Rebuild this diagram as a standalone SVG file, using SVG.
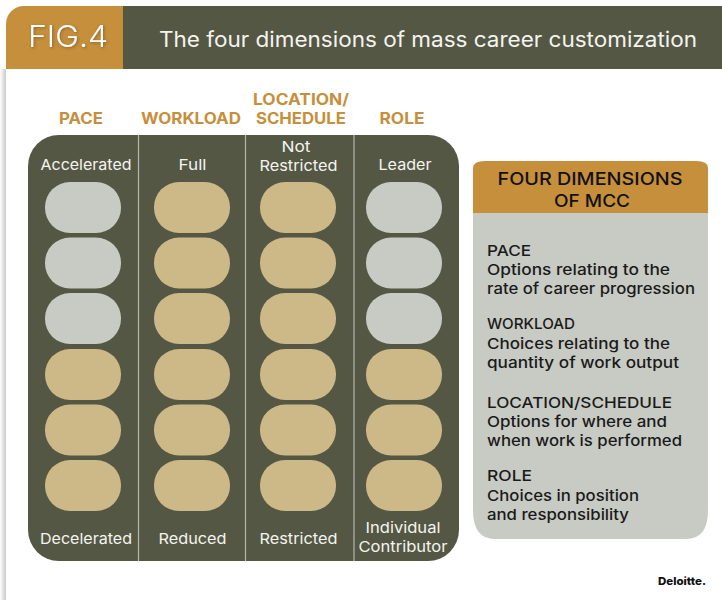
<svg xmlns="http://www.w3.org/2000/svg" width="722" height="600" viewBox="0 0 722 600">
<defs>
<linearGradient id="edge" x1="0" x2="1" y1="0" y2="0"><stop offset="0" stop-color="#fff"/><stop offset="1" stop-color="#c9c9c9"/></linearGradient>
<filter id="soft" x="-20%" y="-20%" width="140%" height="140%"><feDropShadow dx="1" dy="1" stdDeviation="1.5" flood-color="#5a4520" flood-opacity=".6"/></filter>
</defs>
<style>
text{font-family:Inter,"Noto Sans","Liberation Sans",sans-serif}
.h{font-size:15.5px;font-weight:700;fill:#c68f3c;text-anchor:middle}
.l{font-size:15px;font-weight:400;fill:#f4f4ee;text-anchor:middle}
.b{font-size:15px;font-weight:500;fill:#1a1a1a}
.g{fill:#c8cbc3}.t{fill:#cdb987}
.d{stroke:#b5b6ad;stroke-width:1.2}
</style>
<rect width="722" height="600" fill="#fff"/>
<rect x="0" y="69" width="6" height="531" fill="url(#edge)"/>
<g id="header">
<rect x="123" y="6" width="599" height="63" fill="#555745"/>
<path d="M6 69V24A18 18 0 0 1 24 6H123V69Z" fill="#c68f3c"/>
<text x="28" y="47" font-size="30" fill="#fff" filter="url(#soft)" textLength="80" lengthAdjust="spacingAndGlyphs" style="font-weight:300">FIG.4</text>
<text x="159" y="47" font-size="21" font-weight="400" fill="#f4f4ee" textLength="538" lengthAdjust="spacingAndGlyphs">The four dimensions of mass career customization</text>
</g>
<g id="column-headings">
<text class="h" x="81" y="124" textLength="44" lengthAdjust="spacingAndGlyphs">PACE</text>
<text class="h" x="191" y="124" textLength="100" lengthAdjust="spacingAndGlyphs">WORKLOAD</text>
<text class="h" x="301" y="105" textLength="96" lengthAdjust="spacingAndGlyphs">LOCATION/</text>
<text class="h" x="301" y="124" textLength="90" lengthAdjust="spacingAndGlyphs">SCHEDULE</text>
<text class="h" x="402" y="124" textLength="45" lengthAdjust="spacingAndGlyphs">ROLE</text>
</g>
<g id="matrix">
<rect x="28" y="135" width="431" height="426" rx="31" fill="#555745"/>
<g id="dividers">
<line class="d" x1="138.5" y1="135" x2="138.5" y2="561"/>
<line class="d" x1="245.5" y1="135" x2="245.5" y2="561"/>
<line class="d" x1="354" y1="135" x2="354" y2="561"/>
</g>
<g id="col-pace">
<text class="l" x="86" y="170" textLength="91" lengthAdjust="spacingAndGlyphs">Accelerated</text>
<rect class="g" x="45" y="182" width="76" height="51" rx="25"/>
<rect class="g" x="45" y="237.500" width="76" height="51" rx="25"/>
<rect class="g" x="45" y="293" width="76" height="51" rx="25"/>
<rect class="t" x="45" y="349" width="76" height="51" rx="25"/>
<rect class="t" x="45" y="404.500" width="76" height="51" rx="25"/>
<rect class="t" x="45" y="460" width="76" height="51" rx="25"/>
<text class="l" x="86" y="544" textLength="92" lengthAdjust="spacingAndGlyphs">Decelerated</text>
</g>
<g id="col-workload">
<text class="l" x="192.500" y="170" textLength="28" lengthAdjust="spacingAndGlyphs">Full</text>
<rect class="t" x="154" y="182" width="76" height="51" rx="25"/>
<rect class="t" x="154" y="237.500" width="76" height="51" rx="25"/>
<rect class="t" x="154" y="293" width="76" height="51" rx="25"/>
<rect class="t" x="154" y="349" width="76" height="51" rx="25"/>
<rect class="t" x="154" y="404.500" width="76" height="51" rx="25"/>
<rect class="t" x="154" y="460" width="76" height="51" rx="25"/>
<text class="l" x="192.500" y="544" textLength="68" lengthAdjust="spacingAndGlyphs">Reduced</text>
</g>
<g id="col-location">
<text class="l" x="296" y="152" textLength="29" lengthAdjust="spacingAndGlyphs">Not</text>
<text class="l" x="298.500" y="171" textLength="78" lengthAdjust="spacingAndGlyphs">Restricted</text>
<rect class="t" x="260" y="182" width="76" height="51" rx="25"/>
<rect class="t" x="260" y="237.500" width="76" height="51" rx="25"/>
<rect class="t" x="260" y="293" width="76" height="51" rx="25"/>
<rect class="t" x="260" y="349" width="76" height="51" rx="25"/>
<rect class="t" x="260" y="404.500" width="76" height="51" rx="25"/>
<rect class="t" x="260" y="460" width="76" height="51" rx="25"/>
<text class="l" x="298.500" y="544" textLength="78" lengthAdjust="spacingAndGlyphs">Restricted</text>
</g>
<g id="col-role">
<text class="l" x="405" y="170" textLength="53" lengthAdjust="spacingAndGlyphs">Leader</text>
<rect class="g" x="366" y="182" width="76" height="51" rx="25"/>
<rect class="g" x="366" y="237.500" width="76" height="51" rx="25"/>
<rect class="g" x="366" y="293" width="76" height="51" rx="25"/>
<rect class="t" x="366" y="349" width="76" height="51" rx="25"/>
<rect class="t" x="366" y="404.500" width="76" height="51" rx="25"/>
<rect class="t" x="366" y="460" width="76" height="51" rx="25"/>
<text class="l" x="403" y="533" textLength="75" lengthAdjust="spacingAndGlyphs">Individual</text>
<text class="l" x="403" y="552" textLength="89" lengthAdjust="spacingAndGlyphs">Contributor</text>
</g>
</g>
<g id="legend">
<path d="M473 213V168Q473 161 485 161H696Q708 161 708 168V213Z" fill="#c68f3c"/>
<path d="M473 213H708V510Q708 539 686 539H495Q473 539 473 510Z" fill="#c8cbc3"/>
<text x="590" y="185" font-size="17.500" font-weight="500" fill="#111" text-anchor="middle" textLength="185" lengthAdjust="spacingAndGlyphs">FOUR DIMENSIONS</text>
<text x="592" y="207" font-size="17.500" font-weight="500" fill="#111" text-anchor="middle" textLength="76" lengthAdjust="spacingAndGlyphs">OF MCC</text>
<text class="b" x="487" y="256" textLength="44" lengthAdjust="spacingAndGlyphs">PACE</text>
<text class="b" x="487" y="275" textLength="183" lengthAdjust="spacingAndGlyphs">Options relating to the</text>
<text class="b" x="487" y="294" textLength="208" lengthAdjust="spacingAndGlyphs">rate of career progression</text>
<text class="b" x="487" y="329" textLength="88" lengthAdjust="spacingAndGlyphs">WORKLOAD</text>
<text class="b" x="487" y="349" textLength="183" lengthAdjust="spacingAndGlyphs">Choices relating to the</text>
<text class="b" x="487" y="368" textLength="192" lengthAdjust="spacingAndGlyphs">quantity of work output</text>
<text class="b" x="487" y="408" textLength="185" lengthAdjust="spacingAndGlyphs">LOCATION/SCHEDULE</text>
<text class="b" x="487" y="427" textLength="180" lengthAdjust="spacingAndGlyphs">Options for where and</text>
<text class="b" x="487" y="446" textLength="195" lengthAdjust="spacingAndGlyphs">when work is performed</text>
<text class="b" x="487" y="481" textLength="45" lengthAdjust="spacingAndGlyphs">ROLE</text>
<text class="b" x="487" y="501" textLength="152" lengthAdjust="spacingAndGlyphs">Choices in position</text>
<text class="b" x="487" y="520" textLength="142" lengthAdjust="spacingAndGlyphs">and responsibility</text>
</g>
<g id="logo"><text x="658" y="585" font-size="11" font-weight="800" fill="#111" textLength="48" lengthAdjust="spacingAndGlyphs">Deloitte.</text></g>
</svg>
